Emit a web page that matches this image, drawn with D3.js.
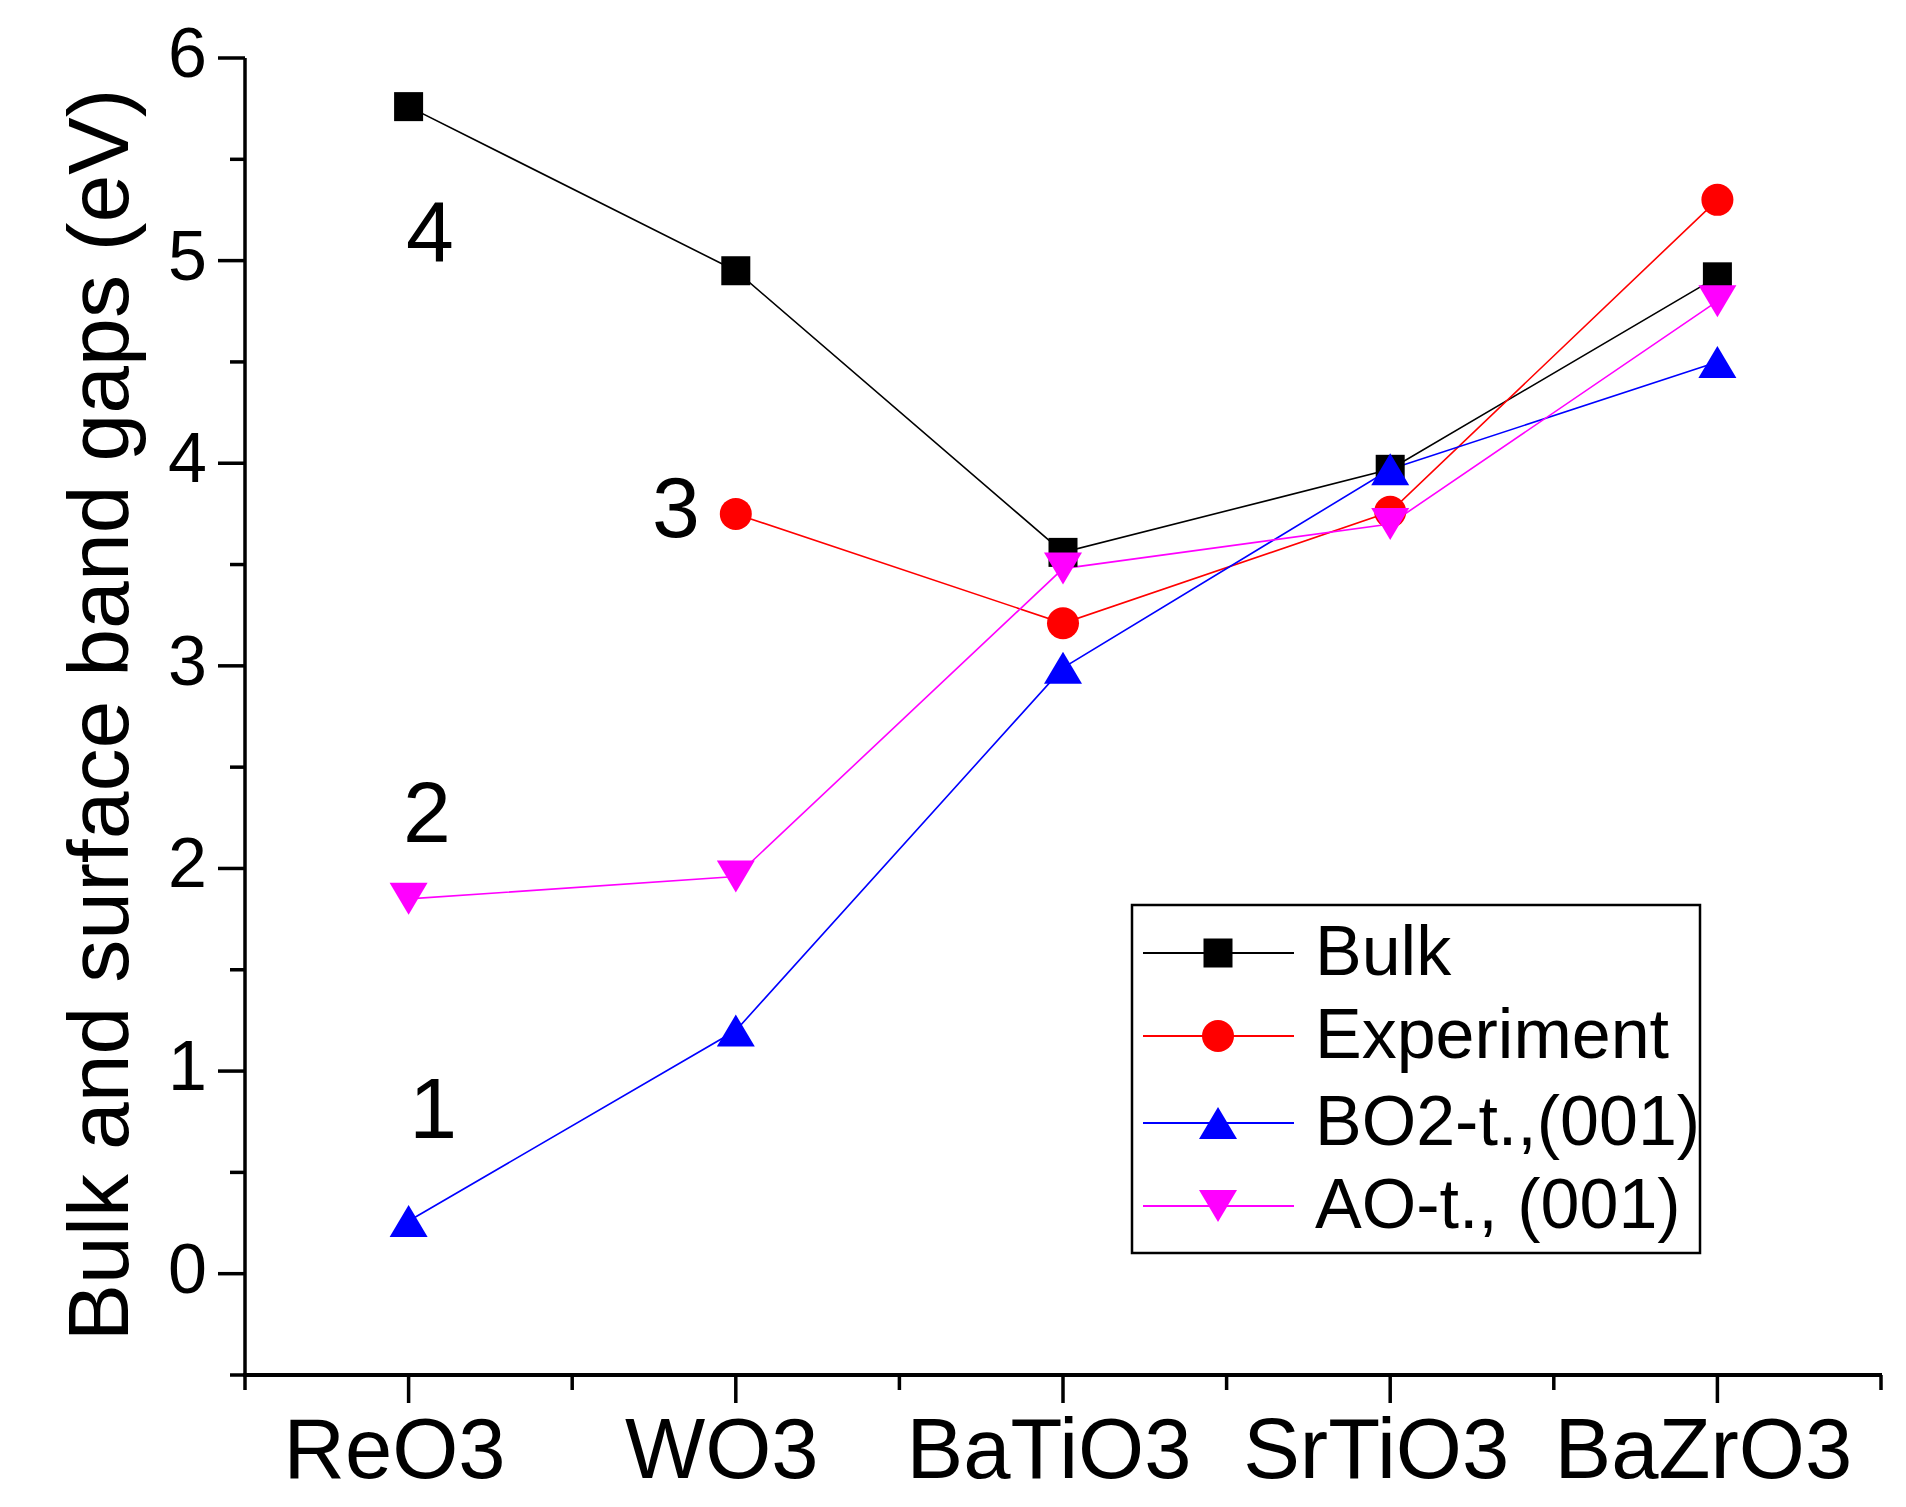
<!DOCTYPE html>
<html>
<head>
<meta charset="utf-8">
<script src="https://cdn.jsdelivr.net/npm/d3@7"></script>
<style>
  html, body { margin: 0; padding: 0; background: #fff; }
  svg { display: block; }
  text { font-family: "Liberation Sans", Arial, sans-serif; fill: #000; }
</style>
</head>
<body>
<svg id="chart" width="1906" height="1507"></svg>
<script>
// ---------- data ----------
const categories = ["ReO3", "WO3", "BaTiO3", "SrTiO3", "BaZrO3"];
const bulk       = [5.76, 4.95, 3.56, 3.97, 4.92];
const experiment = [null, 3.75, 3.21, 3.76, 5.30];
const bo2        = [0.26, 1.20, 2.99, 3.97, 4.50];
const ao         = [1.85, 1.96, 3.48, 3.70, 4.80];
const seriesNames = ["Bulk", "Experiment", "BO2-t.,(001)", "AO-t., (001)"];
const yTicks = [0, 1, 2, 3, 4, 5, 6];
const yTitle = "Bulk and surface band gaps (eV)";
// annotation labels in data coordinates (category index, value)
const annoText = ["4", "3", "2", "1"];
const annoX    = [1.065, 1.817, 1.056, 1.075];
const annoY    = [5.00, 3.636, 2.13, 0.67];

// ---------- layout ----------
const svg = d3.select("#chart");
const x = d3.scaleLinear().domain([0.5, 5.5]).range([245, 1881]);
const y = d3.scaleLinear().domain([-0.5, 6]).range([1375, 58]);

const series = [
  { name: seriesNames[0], values: bulk,       color: "#000000", symbol: "square" },
  { name: seriesNames[1], values: experiment, color: "#ff0000", symbol: "circle" },
  { name: seriesNames[2], values: bo2,        color: "#0000ff", symbol: "up" },
  { name: seriesNames[3], values: ao,         color: "#ff00ff", symbol: "down" }
];

function drawMarker(g, sym, cx, cy, color) {
  if (sym === "square") {
    g.append("rect").attr("x", cx - 14.5).attr("y", cy - 14.5)
      .attr("width", 29).attr("height", 29).attr("fill", color);
  } else if (sym === "circle") {
    g.append("circle").attr("cx", cx).attr("cy", cy).attr("r", 16).attr("fill", color);
  } else if (sym === "up") {
    g.append("path").attr("d", `M${cx},${cy - 16}L${cx + 19},${cy + 16}L${cx - 19},${cy + 16}Z`).attr("fill", color);
  } else {
    g.append("path").attr("d", `M${cx - 19},${cy - 16}L${cx + 19},${cy - 16}L${cx},${cy + 16}Z`).attr("fill", color);
  }
}

// ---------- axes ----------
const axisG = svg.append("g");
// Y axis ticks
const yMinor = d3.range(-0.5, 6, 1);
axisG.selectAll(".ymaj").data(yTicks).enter().append("line")
  .attr("x1", 245 - 27).attr("x2", 245).attr("y1", d => y(d)).attr("y2", d => y(d))
  .attr("stroke", "#000").attr("stroke-width", 3.5);
axisG.selectAll(".ymin").data(yMinor).enter().append("line")
  .attr("x1", 245 - 15).attr("x2", 245).attr("y1", d => y(d)).attr("y2", d => y(d))
  .attr("stroke", "#000").attr("stroke-width", 3.5);
axisG.selectAll(".ylab").data(yTicks).enter().append("text")
  .attr("x", 207).attr("y", d => y(d) + 19)
  .attr("text-anchor", "end").attr("font-size", 70).text(d => d);

// X axis ticks
const xMajor = d3.range(1, 6);
const xMinor = d3.range(0.5, 6, 1);
axisG.selectAll(".xmaj").data(xMajor).enter().append("line")
  .attr("x1", d => x(d)).attr("x2", d => x(d)).attr("y1", 1375).attr("y2", 1375 + 28)
  .attr("stroke", "#000").attr("stroke-width", 3.5);
axisG.selectAll(".xmin").data(xMinor).enter().append("line")
  .attr("x1", d => x(d)).attr("x2", d => x(d)).attr("y1", 1375).attr("y2", 1375 + 15)
  .attr("stroke", "#000").attr("stroke-width", 3.5);
axisG.selectAll(".xlab").data(categories).enter().append("text")
  .attr("x", (d, i) => x(i + 1) - 14).attr("y", 1478)
  .attr("text-anchor", "middle").attr("font-size", 85).text(d => d);

// axis lines
axisG.append("line").attr("x1", 245).attr("x2", 245).attr("y1", 58).attr("y2", 1377)
  .attr("stroke", "#000").attr("stroke-width", 3.5);
axisG.append("line").attr("x1", 243).attr("x2", 1882).attr("y1", 1375).attr("y2", 1375)
  .attr("stroke", "#000").attr("stroke-width", 4);

// Y title
svg.append("text")
  .attr("transform", "translate(128,715) rotate(-90)")
  .attr("text-anchor", "middle").attr("font-size", 86).text(yTitle);

// ---------- series ----------
const plotG = svg.append("g");
series.forEach(s => {
  const pts = s.values.map((v, i) => ({ i: i + 1, v })).filter(p => p.v !== null);
  const line = d3.line().x(p => x(p.i)).y(p => y(p.v));
  plotG.append("path").attr("d", line(pts)).attr("fill", "none")
    .attr("stroke", s.color).attr("stroke-width", 1.6);
});
series.forEach(s => {
  const g = plotG.append("g");
  s.values.forEach((v, i) => {
    if (v === null) return;
    drawMarker(g, s.symbol, x(i + 1), y(v), s.color);
  });
});

// ---------- annotations ----------
svg.selectAll(".anno").data(annoText).enter().append("text")
  .attr("x", (d, i) => x(annoX[i])).attr("y", (d, i) => y(annoY[i]))
  .attr("text-anchor", "middle").attr("font-size", 86).text(d => d);

// ---------- legend ----------
const leg = svg.append("g");
leg.append("rect").attr("x", 1132).attr("y", 905).attr("width", 568).attr("height", 348)
  .attr("fill", "#fff").attr("stroke", "#000").attr("stroke-width", 2.5);
const rowY = [953, 1036, 1123, 1206];
series.forEach((s, k) => {
  const ry = rowY[k];
  leg.append("line").attr("x1", 1143).attr("x2", 1294).attr("y1", ry).attr("y2", ry)
    .attr("stroke", s.color).attr("stroke-width", 2.2);
  drawMarker(leg, s.symbol, 1218, ry, s.color);
  leg.append("text").attr("x", 1315).attr("y", ry + 22).attr("font-size", 70).text(s.name);
});
</script>
</body>
</html>
